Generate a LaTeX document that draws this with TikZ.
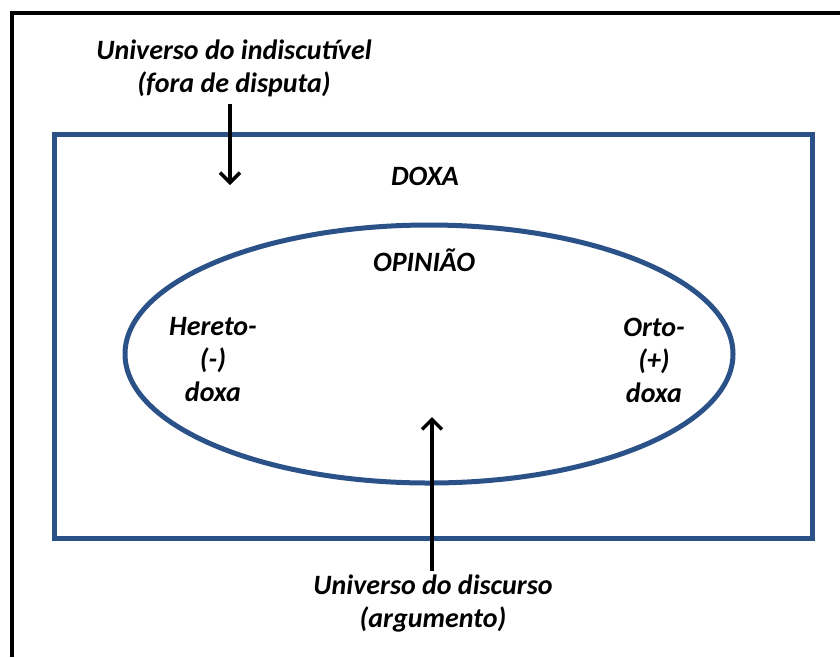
\documentclass[tikz,border=0pt]{standalone}
\usepackage{fontspec}
\setmainfont{Carlito}
\usetikzlibrary{shapes.geometric,arrows.meta,positioning}
\definecolor{doxablue}{HTML}{2B5189}
\tikzset{
  lbl/.style={font=\fontsize{28}{33}\selectfont\bfseries\itshape, align=center, inner sep=0pt},
  arr/.style={line width=3.5pt, -{Straight Barb[length=10pt,width=20pt]}},
}

\begin{document}
\begin{tikzpicture}[x=1pt,y=-1pt]
    \useasboundingbox (0,0) rectangle (840,657);

    % Draw the outer frame (only top and left edges show)
    \draw[line width=4pt] (840,13) -- (12,13) -- (12,657);

    % Draw the box and the ellipse
    \node[draw=doxablue, line width=5pt, minimum width=758pt, minimum height=404pt, inner sep=0pt] (doxa) at (433,336) {};
    \node[ellipse, draw=doxablue, line width=5pt, minimum width=608pt, minimum height=258pt, inner sep=0pt] (opiniao) at (429,354) {};

    % Add the labels
    \node[lbl] (indisc) at (234,68) {Universo do indiscutível\\(fora de disputa)};
    \node[lbl] (doxatxt) at (425,176) {DOXA};
    \node[lbl] (opintxt) at (424,260) {OPINIÃO};
    \node[lbl] (hetero) at (213,360) {Hereto-\\(-)\\doxa};
    \node[lbl] (orto) at (654,360) {Orto-\\(+)\\doxa};
    \node[lbl] (discurso) at (433,604) {Universo do discurso\\(argumento)};

    % Draw the arrows
    \coordinate (tipA) at (230,185);
    \coordinate (tipB) at (432,417);
    \draw[arr] ([yshift=-7pt]tipA |- indisc.south) -- (tipA);
    \draw[arr] ([yshift=4pt]tipB |- discurso.north) -- (tipB);
\end{tikzpicture}
\end{document}
